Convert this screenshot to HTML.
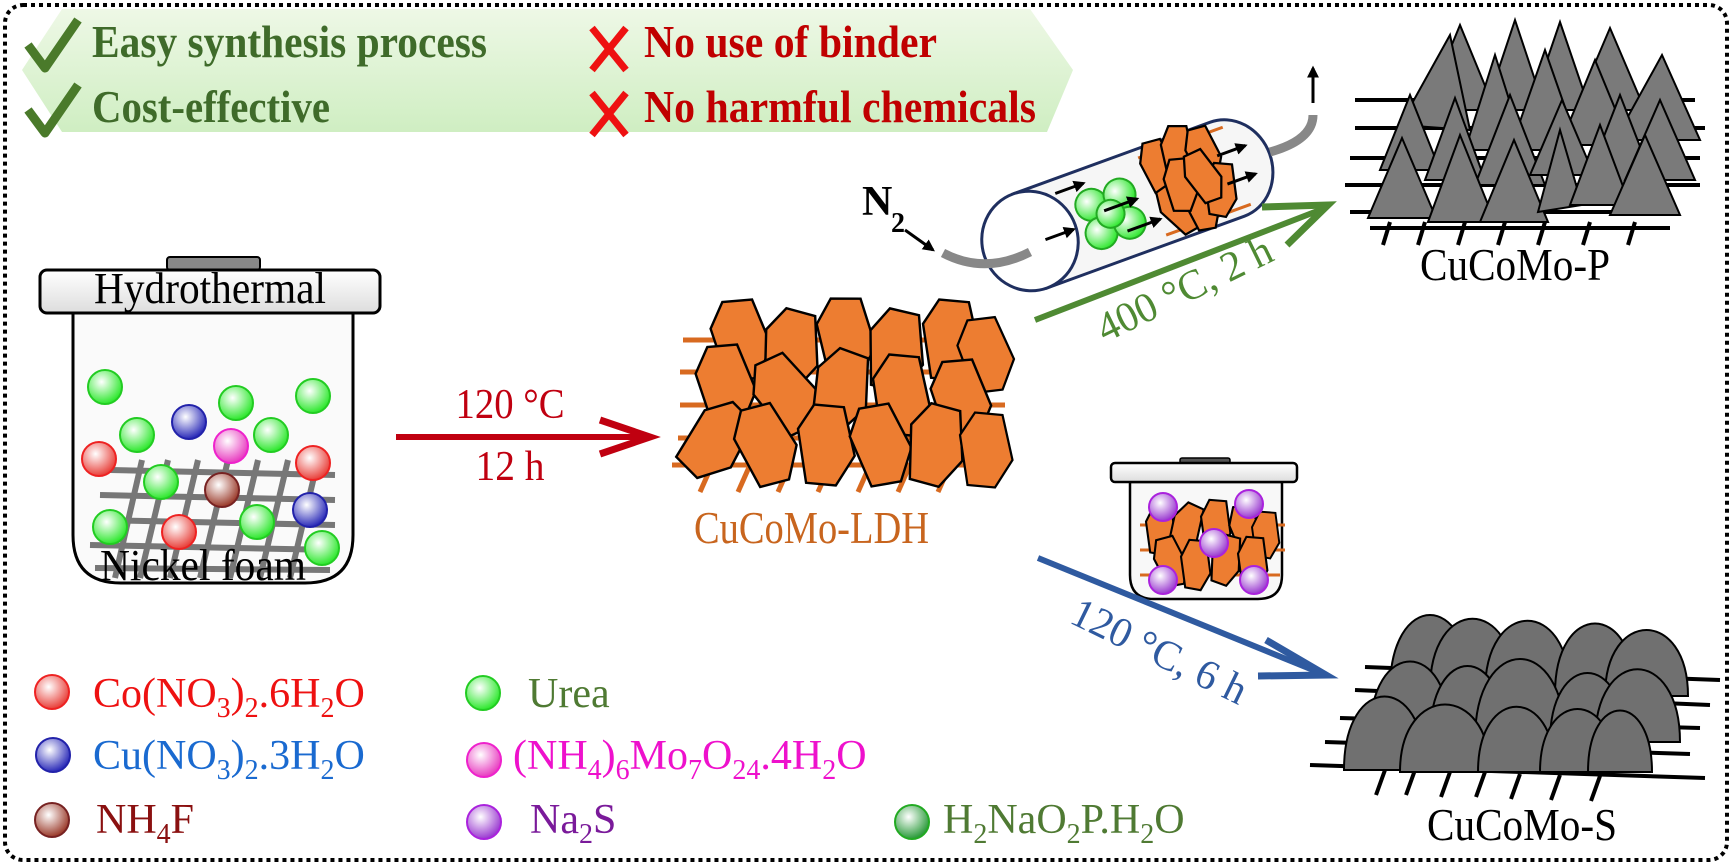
<!DOCTYPE html>
<html><head><meta charset="utf-8"><style>html,body{margin:0;padding:0;background:#fff}svg{display:block}</style></head><body>
<svg width="1733" height="866" viewBox="0 0 1733 866" xmlns="http://www.w3.org/2000/svg" font-family="'Liberation Serif', serif">
<defs>
<linearGradient id="ban" x1="0" y1="0" x2="0" y2="1"><stop offset="0" stop-color="#eef8e6"/><stop offset="1" stop-color="#cfeec2"/></linearGradient>
<radialGradient id="gR" cx="0.4" cy="0.35" r="0.65"><stop offset="0" stop-color="#fff"/><stop offset="1" stop-color="#e8403a"/></radialGradient>
<radialGradient id="gG" cx="0.4" cy="0.35" r="0.65"><stop offset="0" stop-color="#fff"/><stop offset="1" stop-color="#2ee82e"/></radialGradient>
<radialGradient id="gB" cx="0.4" cy="0.35" r="0.65"><stop offset="0" stop-color="#fff"/><stop offset="1" stop-color="#2a2ab8"/></radialGradient>
<radialGradient id="gP" cx="0.4" cy="0.35" r="0.65"><stop offset="0" stop-color="#fff"/><stop offset="1" stop-color="#e83cc0"/></radialGradient>
<radialGradient id="gW" cx="0.4" cy="0.35" r="0.65"><stop offset="0" stop-color="#fff"/><stop offset="1" stop-color="#9a3a2a"/></radialGradient>
<radialGradient id="gV" cx="0.4" cy="0.35" r="0.65"><stop offset="0" stop-color="#fff"/><stop offset="1" stop-color="#9a3ad0"/></radialGradient>
<radialGradient id="gD" cx="0.4" cy="0.35" r="0.65"><stop offset="0" stop-color="#fff"/><stop offset="1" stop-color="#2a9a3a"/></radialGradient>
<linearGradient id="lid" x1="0" y1="0" x2="0" y2="1"><stop offset="0" stop-color="#fff"/><stop offset="1" stop-color="#ddd"/></linearGradient>
<path id="hx" d="M-20,-12 L-8,-30 L14,-28 L22,8 L8,30 L-14,28 Z" fill="#ed7d31" stroke="#000" stroke-width="1.8"/>
<path id="hs" d="M-10,-6 L-4,-18 L8,-17 L11,6 L4,18 L-7,16 Z" fill="#ed7d31" stroke="#000" stroke-width="1.5"/>
<marker id="ak" viewBox="0 0 10 10" refX="8" refY="5" markerWidth="4" markerHeight="4" orient="auto"><path d="M0,0 L10,5 L0,10 Z" fill="#000"/></marker>
</defs>

<rect x="5" y="5" width="1722" height="855" rx="18" fill="none" stroke="#000" stroke-width="4" stroke-dasharray="4 4"/>

<!-- banner -->
<polygon points="62,9 1030,9 1073,70 1047,132 62,132 22,70" fill="url(#ban)"/>
<path d="M28,45 L45,68 L78,20" fill="none" stroke="#4a7a2a" stroke-width="9" stroke-linejoin="round"/>
<path d="M28,110 L45,133 L78,85" fill="none" stroke="#4a7a2a" stroke-width="9" stroke-linejoin="round"/>
<text x="92" y="57" font-size="46" font-weight="bold" fill="#3f6b2a" textLength="395" lengthAdjust="spacingAndGlyphs">Easy synthesis process</text>
<text x="92" y="122" font-size="46" font-weight="bold" fill="#3f6b2a" textLength="238" lengthAdjust="spacingAndGlyphs">Cost-effective</text>
<g stroke="#ee1111" stroke-width="7"><line x1="592" y1="28" x2="626" y2="70"/><line x1="626" y1="28" x2="592" y2="70"/><line x1="592" y1="93" x2="626" y2="135"/><line x1="626" y1="93" x2="592" y2="135"/></g>
<text x="644" y="57" font-size="46" font-weight="bold" fill="#c00000" textLength="293" lengthAdjust="spacingAndGlyphs">No use of binder</text>
<text x="644" y="122" font-size="46" font-weight="bold" fill="#c00000" textLength="392" lengthAdjust="spacingAndGlyphs">No harmful chemicals</text>

<!-- hydrothermal vessel -->
<rect x="167" y="257" width="93" height="13" rx="3" fill="#888" stroke="#000" stroke-width="2"/>
<path d="M73,313 L353,313 L353,535 Q353,583 305,583 L121,583 Q73,583 73,535 Z" fill="#fafafa" stroke="#000" stroke-width="3"/>
<g stroke="#777" stroke-width="6">
<line x1="110" y1="470" x2="335" y2="475"/><line x1="100" y1="495" x2="335" y2="500"/><line x1="95" y1="520" x2="335" y2="525"/><line x1="90" y1="545" x2="335" y2="550"/><line x1="95" y1="568" x2="330" y2="570"/>
<line x1="142" y1="460" x2="115" y2="578"/><line x1="168" y1="460" x2="140" y2="578"/><line x1="198" y1="460" x2="170" y2="578"/><line x1="228" y1="460" x2="200" y2="578"/><line x1="258" y1="460" x2="230" y2="578"/><line x1="288" y1="460" x2="260" y2="578"/><line x1="318" y1="460" x2="290" y2="578"/>
</g>
<rect x="40" y="270" width="340" height="43" rx="7" fill="url(#lid)" stroke="#000" stroke-width="3"/>
<text x="210" y="303" font-size="44" text-anchor="middle" fill="#000" textLength="232" lengthAdjust="spacingAndGlyphs">Hydrothermal</text>
<g stroke-width="2">
<circle cx="105" cy="387" r="17" fill="url(#gG)" stroke="#2c2"/>
<circle cx="137" cy="435" r="17" fill="url(#gG)" stroke="#2c2"/>
<circle cx="236" cy="403" r="17" fill="url(#gG)" stroke="#2c2"/>
<circle cx="271" cy="435" r="17" fill="url(#gG)" stroke="#2c2"/>
<circle cx="313" cy="396" r="17" fill="url(#gG)" stroke="#2c2"/>
<circle cx="161" cy="482" r="17" fill="url(#gG)" stroke="#2c2"/>
<circle cx="110" cy="527" r="17" fill="url(#gG)" stroke="#2c2"/>
<circle cx="257" cy="522" r="17" fill="url(#gG)" stroke="#2c2"/>
<circle cx="322" cy="548" r="17" fill="url(#gG)" stroke="#2c2"/>
<circle cx="189" cy="422" r="17" fill="url(#gB)" stroke="#22a"/>
<circle cx="310" cy="510" r="17" fill="url(#gB)" stroke="#22a"/>
<circle cx="231" cy="446" r="17" fill="url(#gP)" stroke="#e2c"/>
<circle cx="99" cy="459" r="17" fill="url(#gR)" stroke="#e22"/>
<circle cx="313" cy="463" r="17" fill="url(#gR)" stroke="#e22"/>
<circle cx="179" cy="532" r="17" fill="url(#gR)" stroke="#e22"/>
<circle cx="222" cy="490" r="17" fill="url(#gW)" stroke="#722"/>
</g>
<text x="203" y="580" font-size="44" text-anchor="middle" fill="#000" textLength="206" lengthAdjust="spacingAndGlyphs">Nickel foam</text>

<!-- red arrow -->
<line x1="396" y1="437" x2="640" y2="437" stroke="#c00010" stroke-width="6"/>
<path d="M600,420 L650,437 L600,454" fill="none" stroke="#c00010" stroke-width="7"/>
<text x="510" y="418" font-size="42" text-anchor="middle" fill="#c00010" textLength="109" lengthAdjust="spacingAndGlyphs">120 °C</text>
<text x="510" y="480" font-size="42" text-anchor="middle" fill="#c00010" textLength="69" lengthAdjust="spacingAndGlyphs">12 h</text>

<!-- LDH -->
<g stroke="#d86a20" stroke-width="5">
<line x1="683" y1="340" x2="1005" y2="340"/><line x1="680" y1="372" x2="1005" y2="372"/><line x1="680" y1="405" x2="1005" y2="405"/><line x1="678" y1="438" x2="1005" y2="438"/><line x1="672" y1="465" x2="1005" y2="465"/>
<line x1="712" y1="465" x2="700" y2="492"/><line x1="750" y1="465" x2="738" y2="492"/><line x1="790" y1="465" x2="778" y2="492"/><line x1="830" y1="465" x2="818" y2="492"/><line x1="870" y1="465" x2="858" y2="492"/><line x1="910" y1="465" x2="898" y2="492"/><line x1="950" y1="465" x2="938" y2="492"/>
</g>
<use href="#hx" transform="translate(740,340) rotate(-10) scale(1.35)"/>
<use href="#hx" transform="translate(790,350) rotate(10) scale(1.35)"/>
<use href="#hx" transform="translate(845,338) rotate(-5) scale(1.35)"/>
<use href="#hx" transform="translate(895,350) rotate(8) scale(1.35)"/>
<use href="#hx" transform="translate(950,340) scale(1.35)"/>
<use href="#hx" transform="translate(985,355) rotate(-12) scale(1.25)"/>
<use href="#hx" transform="translate(725,385) rotate(-10) scale(1.35)"/>
<use href="#hx" transform="translate(785,395) rotate(-30) scale(1.35)"/>
<use href="#hx" transform="translate(840,390) rotate(15) scale(1.35)"/>
<use href="#hx" transform="translate(900,395) scale(1.35)"/>
<use href="#hx" transform="translate(960,400) rotate(-10) scale(1.35)"/>
<use href="#hx" transform="translate(715,440) rotate(40) scale(1.35)"/>
<use href="#hx" transform="translate(765,445) rotate(-20) scale(1.35)"/>
<use href="#hx" transform="translate(825,445) scale(1.35)"/>
<use href="#hx" transform="translate(880,445) rotate(-15) scale(1.35)"/>
<use href="#hx" transform="translate(935,445) rotate(10) scale(1.35)"/>
<use href="#hx" transform="translate(985,450) scale(1.25)"/>
<text x="694" y="543" font-size="46" fill="#c8651e" textLength="235" lengthAdjust="spacingAndGlyphs">CuCoMo-LDH</text>

<!-- tube -->
<g transform="rotate(-20 1030 241)">
<path d="M1030,191 L1240,191 A45,50 0 0 1 1240,291 L1030,291 Z" fill="#f6f6f6" stroke="#1f2f5f" stroke-width="3"/>
<ellipse cx="1030" cy="241" rx="48" ry="50" fill="#fff" stroke="#1f2f5f" stroke-width="3"/>
<g stroke="#2a2" stroke-width="2" fill="url(#gG)">
<circle cx="1100" cy="228" r="16"/><circle cx="1130" cy="228" r="16"/><circle cx="1100" cy="258" r="16"/><circle cx="1130" cy="258" r="16"/><circle cx="1115" cy="243" r="14"/>
</g>
<g stroke="#d86a20" stroke-width="3"><line x1="1160" y1="200" x2="1250" y2="200"/><line x1="1160" y1="282" x2="1250" y2="282"/></g>
<use href="#hs" transform="translate(1175,215) scale(1.5)"/><use href="#hs" transform="translate(1198,208) rotate(15) scale(1.5)"/><use href="#hs" transform="translate(1222,218) scale(1.5)"/>
<use href="#hs" transform="translate(1180,262) rotate(-20) scale(1.5)"/><use href="#hs" transform="translate(1203,265) scale(1.5)"/><use href="#hs" transform="translate(1226,258) rotate(20) scale(1.5)"/>
<use href="#hs" transform="translate(1190,240) rotate(10) scale(1.5)"/><use href="#hs" transform="translate(1214,240) rotate(-10) scale(1.5)"/>
<g stroke="#000" stroke-width="3" marker-end="url(#ak)">
<line x1="1045" y1="245" x2="1075" y2="245"/><line x1="1070" y1="205" x2="1100" y2="205"/><line x1="1110" y1="238" x2="1145" y2="238"/><line x1="1125" y1="265" x2="1160" y2="265"/><line x1="1235" y1="225" x2="1265" y2="225"/><line x1="1235" y1="255" x2="1265" y2="255"/>
</g>
</g>
<path d="M943,253 Q985,275 1030,252" fill="none" stroke="#888" stroke-width="9"/>
<path d="M1270,152 Q1313,140 1313,115" fill="none" stroke="#888" stroke-width="9"/>
<line x1="1313" y1="103" x2="1313" y2="68" stroke="#000" stroke-width="3" marker-end="url(#ak)"/>
<text x="862" y="215" font-size="42" font-weight="bold" fill="#000">N</text>
<text x="891" y="232" font-size="28" font-weight="bold" fill="#000">2</text>
<line x1="905" y1="230" x2="933" y2="250" stroke="#000" stroke-width="3" marker-end="url(#ak)"/>

<!-- green arrow -->
<line x1="1035" y1="320" x2="1320" y2="210" stroke="#4f8a33" stroke-width="6"/>
<path d="M1262,207 L1328,205 L1287,245" fill="none" stroke="#4f8a33" stroke-width="7"/>
<text transform="translate(1105,343) rotate(-26)" font-size="42" fill="#4f8a33" textLength="190" lengthAdjust="spacingAndGlyphs">400 °C, 2 h</text>

<!-- CuCoMo-P -->
<g stroke="#000" stroke-width="4">
<line x1="1355" y1="100" x2="1695" y2="100"/><line x1="1355" y1="128" x2="1705" y2="128"/><line x1="1350" y1="158" x2="1700" y2="158"/><line x1="1345" y1="185" x2="1700" y2="185"/><line x1="1350" y1="212" x2="1670" y2="212"/><line x1="1370" y1="228" x2="1670" y2="228"/>
<line x1="1390" y1="222" x2="1383" y2="245"/><line x1="1425" y1="222" x2="1418" y2="245"/><line x1="1465" y1="222" x2="1458" y2="245"/><line x1="1505" y1="222" x2="1498" y2="245"/><line x1="1545" y1="222" x2="1538" y2="245"/><line x1="1590" y1="222" x2="1583" y2="245"/><line x1="1635" y1="222" x2="1628" y2="245"/>
</g>
<g fill="#7a7a7a" stroke="#000" stroke-width="2">
<polygon points="1425,110 1460,25 1495,110"/><polygon points="1485,110 1515,20 1545,110"/><polygon points="1530,110 1560,22 1590,110"/><polygon points="1575,110 1610,28 1645,110"/>
<polygon points="1400,125 1450,35 1470,130"/><polygon points="1465,150 1495,55 1525,150"/><polygon points="1510,150 1545,50 1580,150"/><polygon points="1560,145 1595,60 1630,145"/><polygon points="1615,140 1662,55 1700,140"/>
<polygon points="1380,170 1410,95 1440,170"/><polygon points="1425,180 1455,98 1485,180"/><polygon points="1475,185 1510,95 1545,185"/><polygon points="1530,175 1562,100 1594,175"/><polygon points="1585,185 1620,95 1655,185"/><polygon points="1625,180 1660,100 1695,180"/>
<polygon points="1368,218 1402,138 1436,218"/><polygon points="1428,222 1460,135 1495,222"/><polygon points="1480,222 1514,140 1548,222"/><polygon points="1538,212 1560,130 1582,205"/><polygon points="1570,205 1600,125 1630,205"/><polygon points="1610,215 1645,135 1680,215"/>
</g>
<text x="1515" y="280" font-size="46" text-anchor="middle" fill="#000" textLength="190" lengthAdjust="spacingAndGlyphs">CuCoMo-P</text>

<!-- small vessel -->
<rect x="1180" y="458" width="50" height="6" rx="2" fill="#555" stroke="#000" stroke-width="1.5"/>
<path d="M1130,482 L1282,482 L1282,575 Q1282,599 1258,599 L1154,599 Q1130,599 1130,575 Z" fill="#f8f8f8" stroke="#000" stroke-width="2.5"/>
<g stroke="#d86a20" stroke-width="3"><line x1="1140" y1="525" x2="1285" y2="525"/><line x1="1140" y1="550" x2="1285" y2="550"/><line x1="1140" y1="575" x2="1280" y2="575"/></g>
<use href="#hs" transform="translate(1160,530) scale(1.4)"/><use href="#hs" transform="translate(1185,528) rotate(20) scale(1.4)"/><use href="#hs" transform="translate(1215,525) scale(1.4)"/><use href="#hs" transform="translate(1245,530) rotate(-15) scale(1.4)"/><use href="#hs" transform="translate(1265,535) scale(1.3)"/>
<use href="#hs" transform="translate(1170,562) rotate(-20) scale(1.4)"/><use href="#hs" transform="translate(1195,565) scale(1.4)"/><use href="#hs" transform="translate(1225,560) rotate(10) scale(1.4)"/><use href="#hs" transform="translate(1252,562) scale(1.4)"/>
<g stroke="#a2d" stroke-width="2" fill="url(#gV)">
<circle cx="1163" cy="507" r="14"/><circle cx="1249" cy="504" r="14"/><circle cx="1214" cy="543" r="14"/><circle cx="1163" cy="580" r="14"/><circle cx="1254" cy="580" r="14"/>
</g>
<rect x="1111" y="463" width="186" height="19" rx="4" fill="url(#lid)" stroke="#000" stroke-width="2.5"/>

<!-- blue arrow -->
<line x1="1038" y1="558" x2="1318" y2="672" stroke="#2f5aa0" stroke-width="6"/>
<path d="M1266,640 L1326,675 L1258,676" fill="none" stroke="#2f5aa0" stroke-width="7"/>
<text transform="translate(1068,622) rotate(26)" font-size="42" fill="#2f5aa0" textLength="190" lengthAdjust="spacingAndGlyphs">120 °C, 6 h</text>

<!-- CuCoMo-S -->
<g stroke="#000" stroke-width="4">
<line x1="1365" y1="667" x2="1720" y2="680"/><line x1="1355" y1="690" x2="1710" y2="705"/><line x1="1340" y1="718" x2="1700" y2="728"/><line x1="1325" y1="742" x2="1690" y2="754"/><line x1="1310" y1="765" x2="1705" y2="778"/>
<line x1="1385" y1="770" x2="1376" y2="795"/><line x1="1415" y1="770" x2="1406" y2="795"/><line x1="1450" y1="772" x2="1441" y2="797"/><line x1="1485" y1="772" x2="1476" y2="797"/><line x1="1520" y1="774" x2="1511" y2="799"/><line x1="1560" y1="775" x2="1551" y2="800"/><line x1="1600" y1="776" x2="1591" y2="801"/>
</g>
<g fill="#707070" stroke="#000" stroke-width="2">
<path d="M1390,690 C1390,590 1470,590 1470,690 Z"/><path d="M1430,690 C1430,595 1515,595 1515,690 Z"/><path d="M1485,692 C1485,597 1570,597 1570,692 Z"/><path d="M1555,694 C1555,600 1635,600 1635,694 Z"/><path d="M1605,696 C1605,608 1688,608 1688,696 Z"/>
<path d="M1370,735 C1370,637 1450,637 1450,735 Z"/><path d="M1430,738 C1430,642 1505,642 1505,738 Z"/><path d="M1475,740 C1475,632 1565,632 1565,740 Z"/><path d="M1550,742 C1550,650 1625,650 1625,742 Z"/><path d="M1595,742 C1595,645 1680,645 1680,742 Z"/>
<path d="M1344,770 C1344,672 1425,672 1425,770 Z"/><path d="M1400,772 C1400,682 1490,682 1490,772 Z"/><path d="M1478,772 C1478,685 1555,685 1555,772 Z"/><path d="M1540,772 C1540,688 1615,688 1615,772 Z"/><path d="M1588,772 C1588,690 1652,690 1652,772 Z"/>
</g>
<text x="1522" y="840" font-size="46" text-anchor="middle" fill="#000" textLength="190" lengthAdjust="spacingAndGlyphs">CuCoMo-S</text>

<!-- legend -->
<g stroke-width="2">
<circle cx="52" cy="692" r="17" fill="url(#gR)" stroke="#e22"/>
<circle cx="53" cy="755" r="17" fill="url(#gB)" stroke="#22a"/>
<circle cx="52" cy="820" r="17" fill="url(#gW)" stroke="#722"/>
<circle cx="483" cy="693" r="17" fill="url(#gG)" stroke="#2c2"/>
<circle cx="484" cy="760" r="17" fill="url(#gP)" stroke="#e2c"/>
<circle cx="484" cy="822" r="17" fill="url(#gV)" stroke="#a2d"/>
<circle cx="912" cy="822" r="17" fill="url(#gD)" stroke="#2a2"/>
</g>
<g font-size="42">
<text x="93" y="707" fill="#ee1111">Co(NO<tspan font-size="28" dy="10">3</tspan><tspan dy="-10">)</tspan><tspan font-size="28" dy="10">2</tspan><tspan dy="-10">.6H</tspan><tspan font-size="28" dy="10">2</tspan><tspan dy="-10">O</tspan></text>
<text x="93" y="769" fill="#1a6ad0">Cu(NO<tspan font-size="28" dy="10">3</tspan><tspan dy="-10">)</tspan><tspan font-size="28" dy="10">2</tspan><tspan dy="-10">.3H</tspan><tspan font-size="28" dy="10">2</tspan><tspan dy="-10">O</tspan></text>
<text x="96" y="833" fill="#8a1010">NH<tspan font-size="28" dy="10">4</tspan><tspan dy="-10">F</tspan></text>
<text x="528" y="707" fill="#4f7a33">Urea</text>
<text x="513" y="769" fill="#ee11cc">(NH<tspan font-size="28" dy="10">4</tspan><tspan dy="-10">)</tspan><tspan font-size="28" dy="10">6</tspan><tspan dy="-10">Mo</tspan><tspan font-size="28" dy="10">7</tspan><tspan dy="-10">O</tspan><tspan font-size="28" dy="10">24</tspan><tspan dy="-10">.4H</tspan><tspan font-size="28" dy="10">2</tspan><tspan dy="-10">O</tspan></text>
<text x="530" y="833" fill="#7a1a9a">Na<tspan font-size="28" dy="10">2</tspan><tspan dy="-10">S</tspan></text>
<text x="943" y="833" fill="#4f7a33">H<tspan font-size="28" dy="10">2</tspan><tspan dy="-10">NaO</tspan><tspan font-size="28" dy="10">2</tspan><tspan dy="-10">P.H</tspan><tspan font-size="28" dy="10">2</tspan><tspan dy="-10">O</tspan></text>
</g>
</svg>
</body></html>
